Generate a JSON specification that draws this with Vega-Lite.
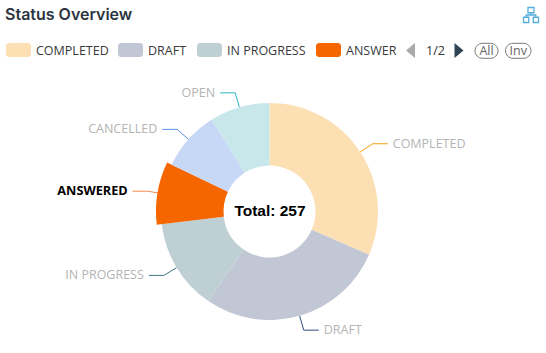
{
"$schema":"https://vega.github.io/schema/vega-lite/v6.json",
"width":546,"height":353,"padding":0,"autosize":"none",
"title":{"text":"Status Overview","anchor":"start","frame":"group","dx":5,"dy":27,"fontSize":16,"fontWeight":600,"font":"Inter","color":"#2b3440"},
"config":{"view":{"stroke":null},"axis":{"disable":true},"font":"Open Sans"},
"data":{"values":[
{"i":1,"status":"COMPLETED","v":81},
{"i":2,"status":"DRAFT","v":72},
{"i":3,"status":"IN PROGRESS","v":35},
{"i":4,"status":"ANSWERED","v":23},
{"i":5,"status":"CANCELLED","v":23},
{"i":6,"status":"OPEN","v":23}]},
"transform":[
{"window":[{"op":"sum","field":"v","as":"end"}],"sort":[{"field":"i"}]},
{"calculate":"datum.end-datum.v","as":"start"},
{"calculate":"(datum.start+datum.end)/2/257*2*PI","as":"mid"},
{"calculate":"datum.status==='ANSWERED'?113.5:108.5","as":"outer"},
{"calculate":"123.5*sin(datum.mid)+(sin(datum.mid)>0?15:-15)","as":"tipx"},
{"calculate":"123.5*cos(datum.mid)","as":"tipy"},
{"calculate":"datum.status","as":"leader"},
{"calculate":"datum.status==='ANSWERED'?'ANSWER':datum.status","as":"entry"}
],
"layer":[
{"transform":[
 {"calculate":"[0,1,2]","as":"pt"},{"flatten":["pt"]},
 {"calculate":"datum.pt===0?108.5*sin(datum.mid):datum.pt===1?123.5*sin(datum.mid):datum.tipx","as":"lx"},
 {"calculate":"datum.pt===0?108.5*cos(datum.mid):datum.tipy","as":"ly"}],
 "mark":{"type":"line","strokeWidth":1,"interpolate":"linear"},
 "encoding":{
  "x":{"field":"lx","type":"quantitative","scale":{"domain":[-269.5,276.5],"range":[0,546],"nice":false,"zero":false}},
  "y":{"field":"ly","type":"quantitative","scale":{"domain":[-141.5,211.5],"range":[353,0],"nice":false,"zero":false}},
  "detail":{"field":"status"},
  "order":{"field":"pt"},
  "stroke":{"field":"leader","type":"nominal","legend":null,"scale":{"domain":["COMPLETED","DRAFT","IN PROGRESS","ANSWERED","CANCELLED","OPEN"],"range":["#f39c12","#2c4a7c","#3d7a8c","#f58a4b","#5b8def","#2bb5bd"]}}}},
{"mark":{"type":"arc","innerRadius":46},
 "encoding":{
  "x":{"datum":0,"type":"quantitative","scale":{"domain":[-269.5,276.5],"range":[0,546],"nice":false,"zero":false}},
  "y":{"datum":0,"type":"quantitative","scale":{"domain":[-141.5,211.5],"range":[353,0],"nice":false,"zero":false}},
  "theta":{"field":"start","type":"quantitative","scale":{"domain":[0,257],"range":[0,6.283185]}},
  "theta2":{"field":"end"},
  "radius":{"field":"outer","type":"quantitative","scale":null},
  "fill":{"field":"status","type":"nominal","legend":null,
   "scale":{"domain":["COMPLETED","DRAFT","IN PROGRESS","ANSWERED","CANCELLED","OPEN"],"range":["#fddfb4","#c1c7d4","#bfd0d5","#f56600","#c7d7f6","#c8e7ea"]}}}},
{"transform":[{"filter":"datum.status==='COMPLETED'"}],"mark":{"type":"rect","cornerRadius":3},
 "encoding":{"x":{"datum":-263.5,"type":"quantitative","scale":{"domain":[-269.5,276.5],"range":[0,546],"nice":false,"zero":false}},"x2":{"datum":-238.5},"y":{"datum":154.5,"type":"quantitative","scale":{"domain":[-141.5,211.5],"range":[353,0],"nice":false,"zero":false}},"y2":{"datum":168.5},"fill":{"field":"status","type":"nominal","legend":null}}},
{"transform":[{"filter":"datum.status==='DRAFT'"}],"mark":{"type":"rect","cornerRadius":3},
 "encoding":{"x":{"datum":-151.5,"type":"quantitative","scale":{"domain":[-269.5,276.5],"range":[0,546],"nice":false,"zero":false}},"x2":{"datum":-126.5},"y":{"datum":154.5,"type":"quantitative","scale":{"domain":[-141.5,211.5],"range":[353,0],"nice":false,"zero":false}},"y2":{"datum":168.5},"fill":{"field":"status","type":"nominal","legend":null}}},
{"transform":[{"filter":"datum.status==='IN PROGRESS'"}],"mark":{"type":"rect","cornerRadius":3},
 "encoding":{"x":{"datum":-72.5,"type":"quantitative","scale":{"domain":[-269.5,276.5],"range":[0,546],"nice":false,"zero":false}},"x2":{"datum":-47.5},"y":{"datum":154.5,"type":"quantitative","scale":{"domain":[-141.5,211.5],"range":[353,0],"nice":false,"zero":false}},"y2":{"datum":168.5},"fill":{"field":"status","type":"nominal","legend":null}}},
{"transform":[{"filter":"datum.status==='ANSWERED'"}],"mark":{"type":"rect","cornerRadius":3},
 "encoding":{"x":{"datum":46.5,"type":"quantitative","scale":{"domain":[-269.5,276.5],"range":[0,546],"nice":false,"zero":false}},"x2":{"datum":71.5},"y":{"datum":154.5,"type":"quantitative","scale":{"domain":[-141.5,211.5],"range":[353,0],"nice":false,"zero":false}},"y2":{"datum":168.5},"fill":{"field":"status","type":"nominal","legend":null}}},
{"transform":[{"filter":"datum.status==='COMPLETED'"}],"mark":{"type":"text","align":"left","baseline":"middle","fontSize":12.5,"color":"#3a3a3a"},
 "encoding":{"x":{"datum":-233.5,"type":"quantitative","scale":{"domain":[-269.5,276.5],"range":[0,546],"nice":false,"zero":false}},"y":{"datum":161,"type":"quantitative","scale":{"domain":[-141.5,211.5],"range":[353,0],"nice":false,"zero":false}},"text":{"field":"entry"}}},
{"transform":[{"filter":"datum.status==='DRAFT'"}],"mark":{"type":"text","align":"left","baseline":"middle","fontSize":12.5,"color":"#3a3a3a"},
 "encoding":{"x":{"datum":-121.5,"type":"quantitative","scale":{"domain":[-269.5,276.5],"range":[0,546],"nice":false,"zero":false}},"y":{"datum":161,"type":"quantitative","scale":{"domain":[-141.5,211.5],"range":[353,0],"nice":false,"zero":false}},"text":{"field":"entry"}}},
{"transform":[{"filter":"datum.status==='IN PROGRESS'"}],"mark":{"type":"text","align":"left","baseline":"middle","fontSize":12.5,"color":"#3a3a3a"},
 "encoding":{"x":{"datum":-42.5,"type":"quantitative","scale":{"domain":[-269.5,276.5],"range":[0,546],"nice":false,"zero":false}},"y":{"datum":161,"type":"quantitative","scale":{"domain":[-141.5,211.5],"range":[353,0],"nice":false,"zero":false}},"text":{"field":"entry"}}},
{"transform":[{"filter":"datum.status==='ANSWERED'"}],"mark":{"type":"text","align":"left","baseline":"middle","fontSize":12.5,"color":"#3a3a3a"},
 "encoding":{"x":{"datum":76.5,"type":"quantitative","scale":{"domain":[-269.5,276.5],"range":[0,546],"nice":false,"zero":false}},"y":{"datum":161,"type":"quantitative","scale":{"domain":[-141.5,211.5],"range":[353,0],"nice":false,"zero":false}},"text":{"field":"entry"}}},
{"transform":[{"filter":"sin(datum.mid)>0"}],
 "mark":{"type":"text","align":"left","baseline":"middle","dx":5,"fontSize":12.5,"color":"#b4b4b4"},
 "encoding":{"x":{"field":"tipx","type":"quantitative","scale":{"domain":[-269.5,276.5],"range":[0,546],"nice":false,"zero":false}},"y":{"field":"tipy","type":"quantitative","scale":{"domain":[-141.5,211.5],"range":[353,0],"nice":false,"zero":false}},"text":{"field":"status"}}},
{"transform":[{"filter":"sin(datum.mid)<0 && datum.status!=='ANSWERED'"}],
 "mark":{"type":"text","align":"right","baseline":"middle","dx":-5,"fontSize":12.5,"color":"#b4b4b4"},
 "encoding":{"x":{"field":"tipx","type":"quantitative","scale":{"domain":[-269.5,276.5],"range":[0,546],"nice":false,"zero":false}},"y":{"field":"tipy","type":"quantitative","scale":{"domain":[-141.5,211.5],"range":[353,0],"nice":false,"zero":false}},"text":{"field":"status"}}},
{"transform":[{"filter":"datum.status==='ANSWERED'"}],
 "mark":{"type":"text","align":"right","baseline":"middle","dx":-5,"fontSize":12.7,"fontWeight":"bold","color":"#000"},
 "encoding":{"x":{"field":"tipx","type":"quantitative","scale":{"domain":[-269.5,276.5],"range":[0,546],"nice":false,"zero":false}},"y":{"field":"tipy","type":"quantitative","scale":{"domain":[-141.5,211.5],"range":[353,0],"nice":false,"zero":false}},"text":{"field":"status"}}},
{"data":{"values":[{"t":"Total: 257"}]},
 "mark":{"type":"text","font":"Liberation Sans","fontWeight":"bold","fontSize":15.5,"color":"#000","baseline":"middle"},
 "encoding":{"x":{"datum":0.5,"type":"quantitative","scale":{"domain":[-269.5,276.5],"range":[0,546],"nice":false,"zero":false}},"y":{"datum":1,"type":"quantitative","scale":{"domain":[-141.5,211.5],"range":[353,0],"nice":false,"zero":false}},"text":{"field":"t"}}},
{"data":{"values":[{"t":"1/2"}]},
 "mark":{"type":"text","fontSize":12.5,"color":"#333","baseline":"middle"},
 "encoding":{"x":{"datum":166,"type":"quantitative","scale":{"domain":[-269.5,276.5],"range":[0,546],"nice":false,"zero":false}},"y":{"datum":161,"type":"quantitative","scale":{"domain":[-141.5,211.5],"range":[353,0],"nice":false,"zero":false}},"text":{"field":"t"}}},
{"data":{"values":[{"t":"All"}]},
 "mark":{"type":"rect","cornerRadius":7.5,"fillOpacity":0,"stroke":"#777","strokeWidth":1},
 "encoding":{"x":{"datum":205.5,"type":"quantitative","scale":{"domain":[-269.5,276.5],"range":[0,546],"nice":false,"zero":false}},"x2":{"datum":228.5},"y":{"datum":153.2,"type":"quantitative","scale":{"domain":[-141.5,211.5],"range":[353,0],"nice":false,"zero":false}},"y2":{"datum":168.2}}},
{"data":{"values":[{"t":"Inv"}]},
 "mark":{"type":"rect","cornerRadius":7.5,"fillOpacity":0,"stroke":"#777","strokeWidth":1},
 "encoding":{"x":{"datum":236,"type":"quantitative","scale":{"domain":[-269.5,276.5],"range":[0,546],"nice":false,"zero":false}},"x2":{"datum":261.5},"y":{"datum":153.2,"type":"quantitative","scale":{"domain":[-141.5,211.5],"range":[353,0],"nice":false,"zero":false}},"y2":{"datum":168.2}}},
{"data":{"values":[{"t":"All"}]},
 "mark":{"type":"text","fontSize":12.5,"color":"#666","baseline":"middle"},
 "encoding":{"x":{"datum":217,"type":"quantitative","scale":{"domain":[-269.5,276.5],"range":[0,546],"nice":false,"zero":false}},"y":{"datum":161,"type":"quantitative","scale":{"domain":[-141.5,211.5],"range":[353,0],"nice":false,"zero":false}},"text":{"field":"t"}}},
{"data":{"values":[{"t":"Inv"}]},
 "mark":{"type":"text","fontSize":12.5,"color":"#666","baseline":"middle"},
 "encoding":{"x":{"datum":248.75,"type":"quantitative","scale":{"domain":[-269.5,276.5],"range":[0,546],"nice":false,"zero":false}},"y":{"datum":161,"type":"quantitative","scale":{"domain":[-141.5,211.5],"range":[353,0],"nice":false,"zero":false}},"text":{"field":"t"}}},
{"data":{"values":[{"t":"prev"}]},
 "mark":{"type":"point","shape":"M0.3,-0.5L-0.3,0L0.3,0.5Z","filled":true,"size":900,"color":"#aaa","opacity":1},
 "encoding":{"x":{"datum":141,"type":"quantitative","scale":{"domain":[-269.5,276.5],"range":[0,546],"nice":false,"zero":false}},"y":{"datum":161,"type":"quantitative","scale":{"domain":[-141.5,211.5],"range":[353,0],"nice":false,"zero":false}}}},
{"data":{"values":[{"t":"next"}]},
 "mark":{"type":"point","shape":"M-0.3,-0.5L0.3,0L-0.3,0.5Z","filled":true,"size":900,"color":"#2f4554","opacity":1},
 "encoding":{"x":{"datum":189.5,"type":"quantitative","scale":{"domain":[-269.5,276.5],"range":[0,546],"nice":false,"zero":false}},"y":{"datum":161,"type":"quantitative","scale":{"domain":[-141.5,211.5],"range":[353,0],"nice":false,"zero":false}}}},
{"data":{"values":[{"t":"icon"}]},
 "mark":{"type":"point","shape":"M-0.2,-0.5H0.2V-0.15H-0.2ZM-0.5,0.15H-0.15V0.5H-0.5ZM0.15,0.15H0.5V0.5H0.15ZM0,-0.15V0M-0.32,0.15V0H0.32V0.15","filled":false,"size":900,"color":"#55aede","strokeWidth":1.3,"opacity":1,"fill":"transparent"},
 "encoding":{"x":{"datum":261.5,"type":"quantitative","scale":{"domain":[-269.5,276.5],"range":[0,546],"nice":false,"zero":false}},"y":{"datum":196.5,"type":"quantitative","scale":{"domain":[-141.5,211.5],"range":[353,0],"nice":false,"zero":false}}}}
]}
